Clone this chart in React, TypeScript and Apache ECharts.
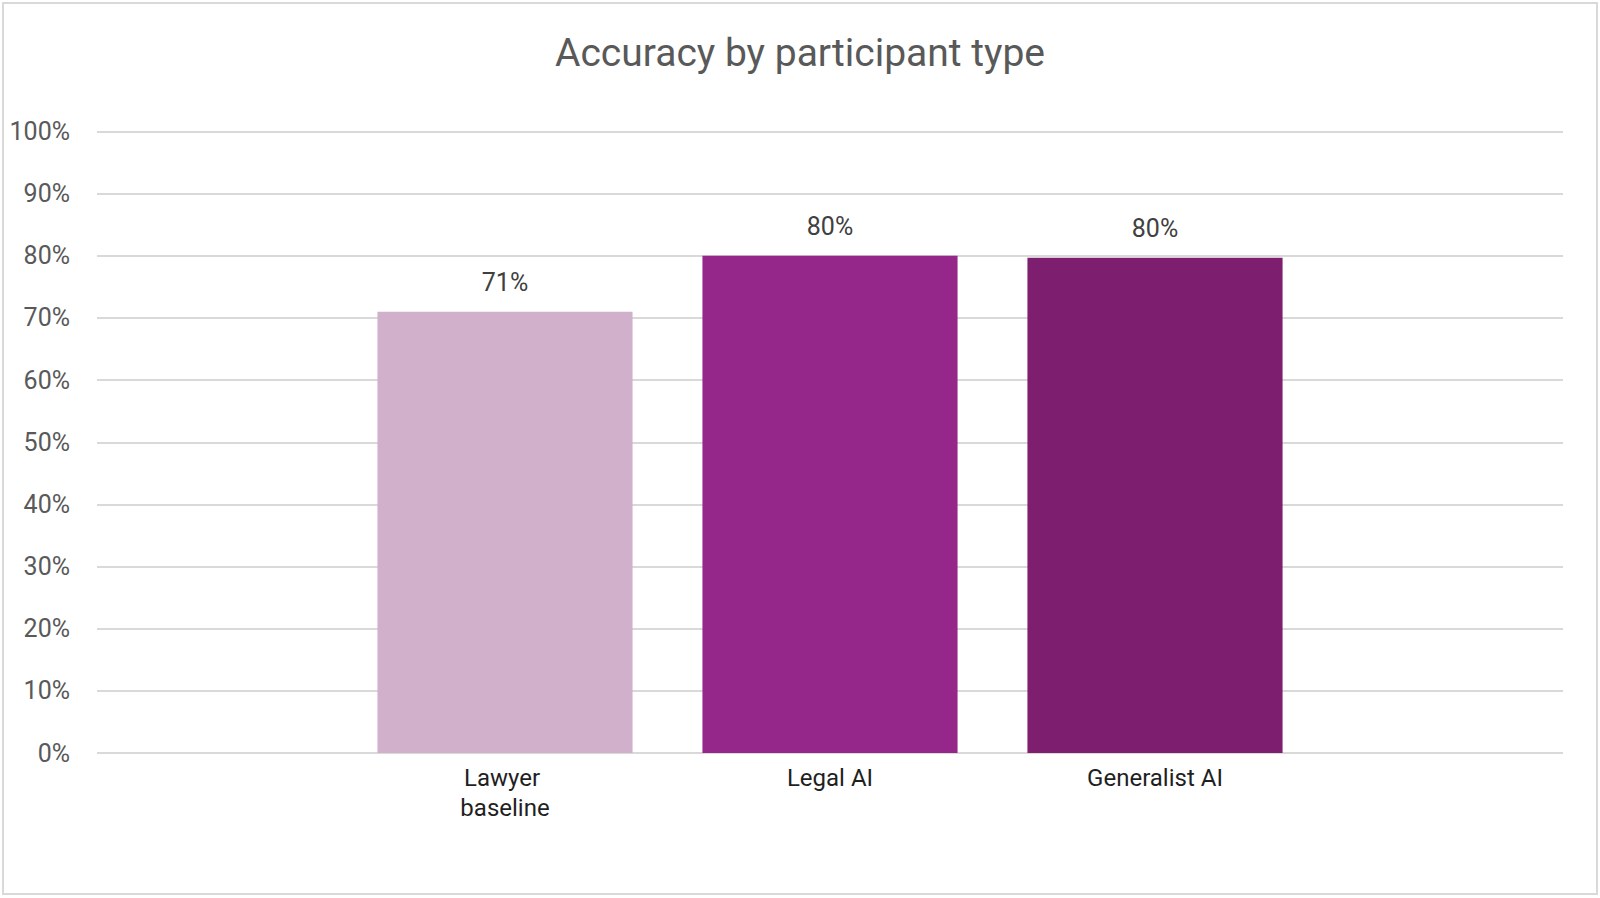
import React, { useEffect, useRef } from "react";
import * as echarts from "echarts";

const titleText = "Accuracy by participant type";
const categories = ["Lawyer baseline", "Legal AI", "Generalist AI"];
const accuracy = [71, 80, 79.7];
const barColors = ["#D1B0CC", "#95278B", "#7D1E6F"];
const yTicks = { min: 0, max: 100, interval: 10 };

export default function App() {
  const ref = useRef<HTMLDivElement>(null);
  useEffect(() => {
    if (!ref.current) return;
    const chart = echarts.init(ref.current, undefined, { renderer: "svg" });
    const font = "Roboto, 'Noto Sans', sans-serif";
    chart.setOption({
      animation: false,
      backgroundColor: "#ffffff",
      title: {
        text: titleText,
        left: "center",
        top: 28,
        textStyle: { fontFamily: font, fontSize: 39, fontWeight: "normal", color: "#595959" },
      },
      graphic: [
        {
          type: "rect",
          shape: { x: 3, y: 3, width: 1594, height: 891 },
          style: { fill: "none", stroke: "#D9D9D9", lineWidth: 2 },
          silent: true,
        },
      ],
      grid: [
        { left: 97, right: 37, top: 131.5, bottom: 145 },
        { left: 342.5, width: 975, top: 131.5, bottom: 145 },
      ],
      xAxis: [
        {
          gridIndex: 0,
          type: "category",
          data: categories,
          axisLine: { show: false },
          axisTick: { show: false },
          axisLabel: { show: false },
          splitLine: { show: false },
        },
        {
          gridIndex: 1,
          type: "category",
          data: categories,
          axisLine: { show: false },
          axisTick: { show: false },
          axisLabel: {
            fontFamily: font,
            fontSize: 24,
            color: "#1F1F1F",
            lineHeight: 30,
            margin: 10,
            width: 150,
            overflow: "break",
          },
        },
      ],
      yAxis: [
        {
          gridIndex: 0,
          type: "value",
          min: yTicks.min,
          max: yTicks.max,
          interval: yTicks.interval,
          axisLine: { show: false },
          axisTick: { show: false },
          axisLabel: {
            formatter: "{value}%",
            fontFamily: font,
            fontSize: 25,
            color: "#595959",
            margin: 27,
          },
          splitLine: { lineStyle: { color: "#D9D9D9", width: 2 } },
        },
        {
          gridIndex: 1,
          type: "value",
          min: yTicks.min,
          max: yTicks.max,
          interval: yTicks.interval,
          show: false,
          splitLine: { show: false },
        },
      ],
      series: [
        {
          type: "bar",
          xAxisIndex: 1,
          yAxisIndex: 1,
          barCategoryGap: "21.5%",
          data: accuracy.map((v, i) => ({ value: v, itemStyle: { color: barColors[i] } })),
          label: {
            show: true,
            position: "top",
            distance: 17,
            formatter: (p: any) => Math.round(p.value) + "%",
            fontFamily: font,
            fontSize: 25,
            color: "#404040",
          },
        },
      ],
    });
    return () => chart.dispose();
  }, []);
  return (
    <div
      ref={ref}
      style={{ position: "fixed", left: 0, top: 0, width: 1600, height: 898 }}
    />
  );
}
